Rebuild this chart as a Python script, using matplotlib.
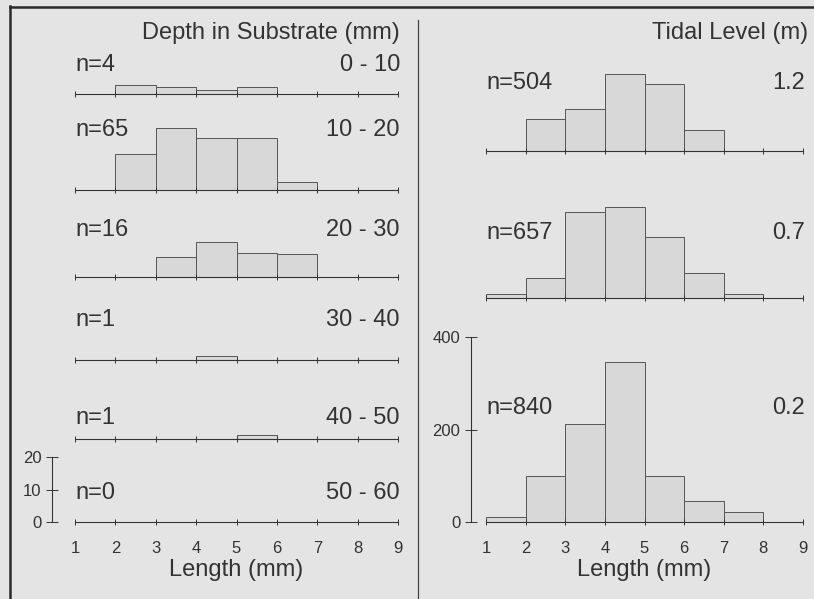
import matplotlib.pyplot as plt
import numpy as np

# Data (counts per 1 mm length class, bins 1-2 ... 8-9)

bin_left = np.arange(1, 9)

depth_labels = ["0 - 10", "10 - 20", "20 - 30", "30 - 40", "40 - 50", "50 - 60"]
depth_n = [4, 65, 16, 1, 1, 0]
depth_counts = [
    [0, 2.8, 2.2, 1.1, 2.2, 0, 0, 0],
    [0, 11, 19, 16, 16, 2.5, 0, 0],
    [0, 0, 6, 10.9, 7.5, 7.1, 0, 0],
    [0, 0, 0, 1.3, 0, 0, 0, 0],
    [0, 0, 0, 0, 1.2, 0, 0, 0],
    [0, 0, 0, 0, 0, 0, 0, 0],
]

tidal_labels = ["1.2", "0.7", "0.2"]
tidal_n = [504, 657, 840]
tidal_counts = [
    [0, 69, 91, 166, 145, 45, 0, 0],
    [9, 43, 186, 197, 132, 54, 9, 0],
    [11, 100, 212, 346, 100, 45, 22, 0],
]

# Layout (pixels, image coords from top-left)
W, H = 814, 599
bg = "#e4e4e4"
bar_fc = "#d8d8d8"
ink = "#333333"
big = 17
small = 12

plt.rcParams["font.family"] = "Liberation Sans"

fig = plt.figure(figsize=(W / 100, H / 100), dpi=100, facecolor=bg)


def px_axes(x0, x1, y_base, height):
    return fig.add_axes([x0 / W, 1 - y_base / H, (x1 - x0) / W, height / H])


def draw_row(ax, counts, ymax, show_labels):
    ax.set_facecolor("none")
    ax.bar(bin_left, counts, width=1, align="edge", color=bar_fc,
           edgecolor="#555555", linewidth=0.7)
    ax.set_xlim(1, 9)
    ax.set_ylim(0, ymax)
    for s in ["top", "right", "left"]:
        ax.spines[s].set_visible(False)
    ax.spines["bottom"].set_color(ink)
    ax.spines["bottom"].set_linewidth(0.8)
    ax.set_xticks(range(1, 10))
    ax.tick_params(axis="x", direction="inout", length=5, width=0.7,
                   colors=ink, labelsize=small, pad=11, labelbottom=show_labels)
    ax.set_yticks([])


def add_scale(ax, top, outward):
    ax.spines["left"].set_visible(True)
    ax.spines["left"].set_position(("outward", outward))
    ax.spines["left"].set_bounds(0, top)
    ax.spines["left"].set_color(ink)
    ax.spines["left"].set_linewidth(0.8)
    ax.set_yticks([0, top / 2, top])
    ax.set_yticklabels([str(v) for v in [0, top // 2, top]])
    ax.tick_params(axis="y", direction="inout", length=9, width=0.7,
                   colors=ink, labelsize=small, pad=3)
    ax.set_xlabel("Length (mm)", fontsize=big, color=ink, labelpad=2)


# left column: depth in substrate
left_x0, left_x1 = 75, 398
left_base = [94, 190, 277, 360, 439, 522]
left_text_y = [65, 130, 230, 320, 418, 493]
left_scale = 65  # px for 20 counts

for i, counts in enumerate(depth_counts):
    ax = px_axes(left_x0, left_x1, left_base[i], left_scale)
    draw_row(ax, counts, 20, i == len(depth_counts) - 1)
    fig.text(left_x0 / W, 1 - left_text_y[i] / H, f"n={depth_n[i]}",
             fontsize=big, color=ink, ha="left", va="center")
    fig.text((left_x1 + 2) / W, 1 - left_text_y[i] / H, depth_labels[i],
             fontsize=big, color=ink, ha="right", va="center")
    if i == len(depth_counts) - 1:
        add_scale(ax, 20, 16.5)

# right column: tidal level
right_x0, right_x1 = 486, 803
right_base = [151, 298, 522]
right_text_y = [83, 233, 408]
right_scale = 185  # px for 400 counts

for i, counts in enumerate(tidal_counts):
    ax = px_axes(right_x0, right_x1, right_base[i], right_scale)
    draw_row(ax, counts, 400, i == len(tidal_counts) - 1)
    fig.text(right_x0 / W, 1 - right_text_y[i] / H, f"n={tidal_n[i]}",
             fontsize=big, color=ink, ha="left", va="center")
    fig.text((right_x1 + 2) / W, 1 - right_text_y[i] / H, tidal_labels[i],
             fontsize=big, color=ink, ha="right", va="center")
    if i == len(tidal_counts) - 1:
        add_scale(ax, 400, 11)

# headings
fig.text(400 / W, 1 - 33 / H, "Depth in Substrate (mm)", fontsize=big,
         color=ink, ha="right", va="center")
fig.text(808 / W, 1 - 33 / H, "Tidal Level (m)", fontsize=big,
         color=ink, ha="right", va="center")

# frame lines
fig.add_artist(plt.Line2D([10 / W, 10 / W], [0, 1 - 6 / H], color="#2a2a2a", lw=1.8))
fig.add_artist(plt.Line2D([10 / W, 1], [1 - 7 / H, 1 - 7 / H], color="#2a2a2a", lw=1.8))
fig.add_artist(plt.Line2D([418 / W, 418 / W], [0, 1 - 20 / H], color="#444444", lw=0.9))

fig.savefig("out.png", dpi=100, facecolor=bg)
